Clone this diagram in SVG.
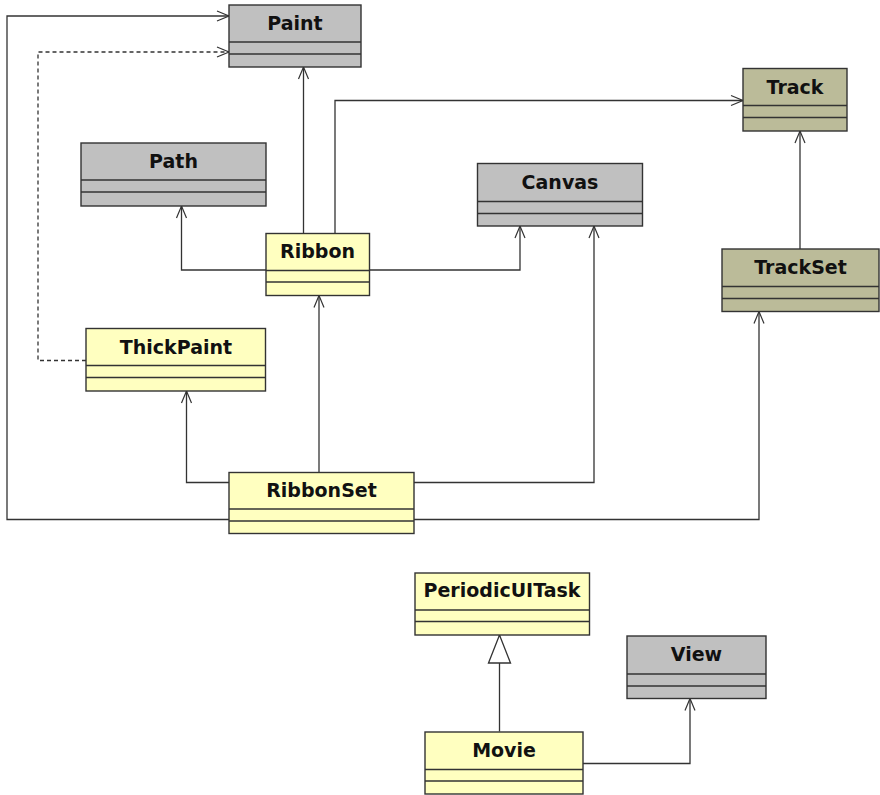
<svg xmlns="http://www.w3.org/2000/svg" width="880" height="795" viewBox="0 0 880 795">
  <style>
    .box rect, .box line { stroke: #333333; stroke-width: 1.4; }
    .lib rect { fill: #c0c0c0; }
    .app rect { fill: #ffffc0; }
    .ext rect { fill: #bbbb99; }
    .box text { font-family: "DejaVu Sans", Verdana, sans-serif; font-weight: bold; font-size: 19px; fill: #111111; text-anchor: middle; }
    .conn path { fill: none; stroke: #333333; stroke-width: 1.3; }
    .conn .dep { marker-end: url(#open); }
    .conn .dash { stroke-dasharray: 4 3; }
    .conn .gen { marker-end: url(#hollow); }
  </style>
  <defs>
    <marker id="open" markerUnits="userSpaceOnUse" markerWidth="16" markerHeight="14" viewBox="-14 -7 16 14" refX="0" refY="0" orient="auto">
      <path d="M -12 -5 L 0 0 L -12 5" fill="none" stroke="#333333" stroke-width="1.2"/>
    </marker>
    <marker id="hollow" markerUnits="userSpaceOnUse" markerWidth="32" markerHeight="26" viewBox="-30 -13 32 26" refX="0" refY="0" orient="auto">
      <path d="M -28 -11 L 0 0 L -28 11 Z" fill="#ffffff" stroke="#333333" stroke-width="1.3"/>
    </marker>
  </defs>

  <rect width="880" height="795" fill="#ffffff"/>

  <g id="connectors" class="conn">
    <!-- RibbonSet -> Paint (outer loop on the left) -->
    <path class="dep" d="M 229 519.5 L 7 519.5 L 7 16 L 229 16"/>
    <!-- ThickPaint -> Paint (dashed) -->
    <path class="dep dash" d="M 86 360.5 L 38 360.5 L 38 52 L 229 52"/>
    <!-- Ribbon -> Paint -->
    <path class="dep" d="M 303.5 233 L 303.5 67"/>
    <!-- Ribbon -> Track -->
    <path class="dep" d="M 335 233 L 335 100.5 L 743 100.5"/>
    <!-- Ribbon -> Path -->
    <path class="dep" d="M 266 270 L 181.5 270 L 181.5 206"/>
    <!-- Ribbon -> Canvas -->
    <path class="dep" d="M 369 270 L 520 270 L 520 226"/>
    <!-- TrackSet -> Track -->
    <path class="dep" d="M 800 249 L 800 131"/>
    <!-- RibbonSet -> ThickPaint -->
    <path class="dep" d="M 229 482.5 L 186.5 482.5 L 186.5 391"/>
    <!-- RibbonSet -> Ribbon -->
    <path class="dep" d="M 319 472 L 319 295.5"/>
    <!-- RibbonSet -> Canvas -->
    <path class="dep" d="M 414 482.5 L 594 482.5 L 594 226"/>
    <!-- RibbonSet -> TrackSet -->
    <path class="dep" d="M 414 519.5 L 759 519.5 L 759 311.5"/>
    <!-- Movie extends PeriodicUITask -->
    <path class="gen" d="M 499.5 731.5 L 499.5 635"/>
    <!-- Movie -> View -->
    <path class="dep" d="M 583 763.5 L 690 763.5 L 690 698.5"/>
  </g>

  <g id="Paint" class="box lib">
    <rect x="229" y="5" width="132" height="62"/>
    <line x1="229" y1="42" x2="361" y2="42"/>
    <line x1="229" y1="54" x2="361" y2="54"/>
    <text x="295" y="30">Paint</text>
  </g>

  <g id="Path" class="box lib">
    <rect x="81" y="143" width="185" height="63"/>
    <line x1="81" y1="180" x2="266" y2="180"/>
    <line x1="81" y1="192" x2="266" y2="192"/>
    <text x="173.5" y="168">Path</text>
  </g>

  <g id="Canvas" class="box lib">
    <rect x="477.5" y="163.5" width="165" height="62.5"/>
    <line x1="477.5" y1="201.5" x2="642.5" y2="201.5"/>
    <line x1="477.5" y1="213.5" x2="642.5" y2="213.5"/>
    <text x="560" y="189">Canvas</text>
  </g>

  <g id="Track" class="box ext">
    <rect x="743" y="68.5" width="104" height="62.5"/>
    <line x1="743" y1="105.5" x2="847" y2="105.5"/>
    <line x1="743" y1="117.5" x2="847" y2="117.5"/>
    <text x="795" y="94">Track</text>
  </g>

  <g id="TrackSet" class="box ext">
    <rect x="722" y="249" width="157" height="62.5"/>
    <line x1="722" y1="286.5" x2="879" y2="286.5"/>
    <line x1="722" y1="298.5" x2="879" y2="298.5"/>
    <text x="800.5" y="274">TrackSet</text>
  </g>

  <g id="Ribbon" class="box app">
    <rect x="266" y="233.5" width="103.5" height="62"/>
    <line x1="266" y1="270.5" x2="369.5" y2="270.5"/>
    <line x1="266" y1="282" x2="369.5" y2="282"/>
    <text x="317.5" y="258">Ribbon</text>
  </g>

  <g id="ThickPaint" class="box app">
    <rect x="86" y="328.5" width="179.5" height="62.5"/>
    <line x1="86" y1="365.5" x2="265.5" y2="365.5"/>
    <line x1="86" y1="377.5" x2="265.5" y2="377.5"/>
    <text x="176" y="354">ThickPaint</text>
  </g>

  <g id="RibbonSet" class="box app">
    <rect x="229" y="472.5" width="185" height="61"/>
    <line x1="229" y1="509" x2="414" y2="509"/>
    <line x1="229" y1="521" x2="414" y2="521"/>
    <text x="321.5" y="497">RibbonSet</text>
  </g>

  <g id="PeriodicUITask" class="box app">
    <rect x="415" y="573" width="174.5" height="62"/>
    <line x1="415" y1="610" x2="589.5" y2="610"/>
    <line x1="415" y1="621.5" x2="589.5" y2="621.5"/>
    <text x="502" y="597">PeriodicUITask</text>
  </g>

  <g id="View" class="box lib">
    <rect x="627" y="636" width="139" height="62.5"/>
    <line x1="627" y1="674" x2="766" y2="674"/>
    <line x1="627" y1="686" x2="766" y2="686"/>
    <text x="696.5" y="661">View</text>
  </g>

  <g id="Movie" class="box app">
    <rect x="425" y="732" width="158" height="62"/>
    <line x1="425" y1="769.5" x2="583" y2="769.5"/>
    <line x1="425" y1="781" x2="583" y2="781"/>
    <text x="504" y="757">Movie</text>
  </g>
</svg>
